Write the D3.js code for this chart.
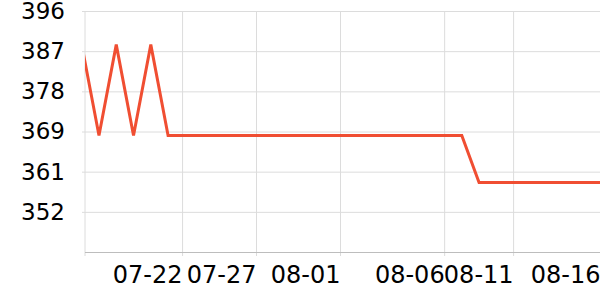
<!DOCTYPE html>
<html>
<head>
<meta charset="utf-8">
<script src="https://cdn.jsdelivr.net/npm/d3@7"></script>
<style>
  body { margin: 0; background: #fff; }
  svg text { font-family: 'DejaVu Sans', sans-serif; }
</style>
</head>
<body>
<div id="chart"></div>
<script>
// daily readings
const dates = [
  '2024-07-16', '2024-07-17', '2024-07-18', '2024-07-19', '2024-07-20',
  '2024-07-21', '2024-07-22', '2024-07-23', '2024-07-24', '2024-07-25',
  '2024-07-26', '2024-07-27', '2024-07-28', '2024-07-29', '2024-07-30',
  '2024-07-31', '2024-08-01', '2024-08-02', '2024-08-03', '2024-08-04',
  '2024-08-05', '2024-08-06', '2024-08-07', '2024-08-08', '2024-08-09',
  '2024-08-10', '2024-08-11', '2024-08-12', '2024-08-13', '2024-08-14',
  '2024-08-15'
];
const values = [
  388.6, 368.6, 388.6, 368.6, 388.6,
  368.6, 368.6, 368.6, 368.6, 368.6,
  368.6, 368.6, 368.6, 368.6, 368.6,
  368.6, 368.6, 368.6, 368.6, 368.6,
  368.6, 368.6, 368.6, 358.3, 358.3,
  358.3, 358.3, 358.3, 358.3, 358.3,
  358.3
];

// x ticks (positions) and their labels
const xTickTimes = [
  '2024-07-21T19:26', '2024-07-26T02:10', '2024-07-30T22:48',
  '2024-08-05T23:31', '2024-08-09T23:17', '2024-08-15T00:00'
];
const xTickLabels = ['07-22', '07-27', '08-01', '08-06', '08-11', '08-16'];

const xDomain = ['2024-07-16T04:35', '2024-08-15T00:00'];
const yDomain = [343, 396];
const yTickValues = [351.83, 360.67, 369.5, 378.33, 387.17, 396];
const yTickLabels = ['352', '361', '369', '378', '387', '396'];

const W = 600, H = 300;
const margin = { top: 11, right: 0, bottom: 48, left: 85 };
const width = W - margin.left - margin.right;
const height = H - margin.top - margin.bottom;

const parse = d3.isoParse;
const data = dates.map((d, i) => ({ date: parse(d), value: values[i] }));

const x = d3.scaleTime().domain(xDomain.map(parse)).range([0, width]);
const y = d3.scaleLinear().domain(yDomain).range([height, 0]);

const svg = d3.select('#chart').append('svg')
  .attr('width', W)
  .attr('height', H);

svg.append('defs').append('clipPath')
  .attr('id', 'plot-clip')
  .append('rect')
  .attr('width', width)
  .attr('height', height);

const g = svg.append('g')
  .attr('transform', 'translate(' + margin.left + ',' + margin.top + ')');

// y axis + horizontal grid
const yAxis = g.append('g')
  .call(d3.axisLeft(y)
    .tickValues(yTickValues)
    .tickFormat((d, i) => yTickLabels[i])
    .tickSize(0)
    .tickPadding(20));
yAxis.select('.domain').remove();
yAxis.selectAll('.tick line')
  .attr('x1', -3)
  .attr('x2', width)
  .attr('stroke', '#dcdcdc');
yAxis.selectAll('.tick text')
  .attr('fill', '#000')
  .style('font-family', "'DejaVu Sans', sans-serif")
  .style('font-size', '23px');

// x axis + vertical grid
const xTicks = xTickTimes.map(parse);
const xAxis = g.append('g')
  .attr('transform', 'translate(0,' + height + ')')
  .call(d3.axisBottom(x)
    .tickValues(xTicks)
    .tickFormat((d, i) => xTickLabels[i])
    .tickSize(0)
    .tickPadding(0));
xAxis.select('.domain').remove();
xAxis.selectAll('.tick line')
  .attr('y1', -height)
  .attr('y2', 4)
  .attr('stroke', '#dcdcdc');
xAxis.selectAll('.tick text')
  .attr('fill', '#000')
  .attr('text-anchor', 'end')
  .attr('y', 30.5)
  .attr('dy', 0)
  .style('font-family', "'DejaVu Sans', sans-serif")
  .style('font-size', '24px');

// left edge and baseline
g.append('line')
  .attr('x1', 0).attr('x2', 0)
  .attr('y1', 0).attr('y2', height + 4)
  .attr('stroke', '#dcdcdc');
g.append('line')
  .attr('x1', 0).attr('x2', width)
  .attr('y1', height + 0.5).attr('y2', height + 0.5)
  .attr('stroke', '#bdbdbd');

const line = d3.line()
  .x(d => x(d.date))
  .y(d => y(d.value));

g.append('path')
  .datum(data)
  .attr('clip-path', 'url(#plot-clip)')
  .attr('fill', 'none')
  .attr('stroke', '#f04e32')
  .attr('stroke-width', 3)
  .attr('stroke-linejoin', 'miter')
  .attr('d', line);
</script>
</body>
</html>
